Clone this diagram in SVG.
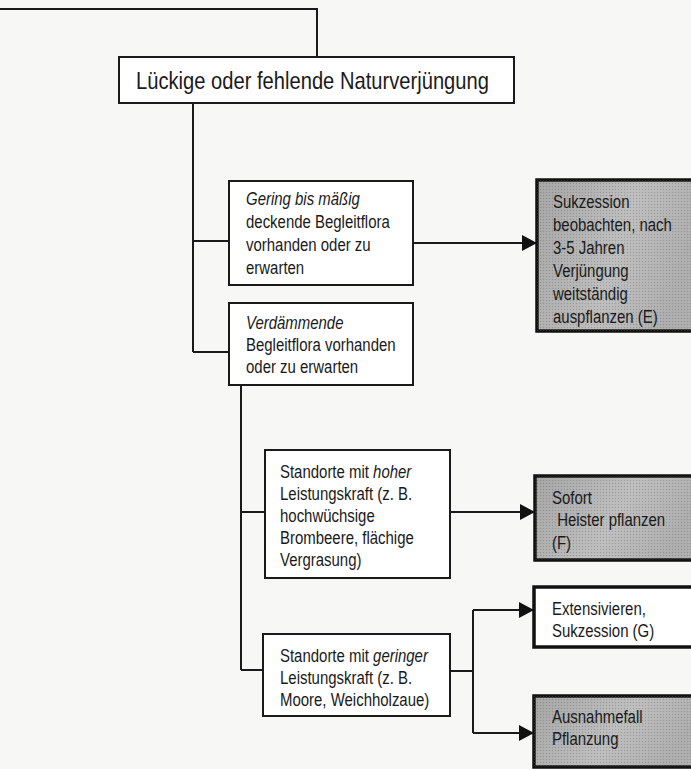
<svg xmlns="http://www.w3.org/2000/svg" width="691" height="769" viewBox="0 0 691 769">
<style>
text{font-family:"Liberation Sans",Arial,sans-serif;font-size:17.5px;fill:#1a1a1a}
.t{font-size:24px}
.i{font-style:italic}
.box{fill:#fff;stroke:#1a1a1a;stroke-width:2}
.bold{stroke:#111;stroke-width:3.5}
.gray{fill:url(#g);stroke:#111;stroke-width:3.5}
.ln{fill:none;stroke:#1a1a1a;stroke-width:2}
</style>
<defs>
<linearGradient id="g" x1="0" y1="0" x2="1" y2="0.3">
<stop offset="0" stop-color="#a2a2a2"/>
<stop offset="0.6" stop-color="#bcbcbc"/>
<stop offset="1" stop-color="#acacac"/>
</linearGradient>
<pattern id="dots" width="3" height="3" patternUnits="userSpaceOnUse">
<rect x="0" y="0" width="1" height="1" fill="#666" fill-opacity="0.35"/>
<rect x="1.5" y="1.5" width="1" height="1" fill="#fff" fill-opacity="0.25"/>
</pattern>
<marker id="ah" markerUnits="userSpaceOnUse" markerWidth="16" markerHeight="18" refX="15" refY="8" orient="auto">
<path d="M0,0 L15,8 L0,16 z" fill="#111"/>
</marker>
</defs>
<rect width="691" height="769" fill="#f7f7f6"/>
<g id="connectors">
<path class="ln" d="M0,9 H317 V57"/>
<path class="ln" d="M193,103 V352 M193,241 H229 M193,352 H229"/>
<path class="ln" d="M413,243 H537" marker-end="url(#ah)"/>
<path class="ln" d="M241,385 V670 M241,512 H265 M241,670 H263"/>
<path class="ln" d="M450,512 H535" marker-end="url(#ah)"/>
<path class="ln" d="M450,671 H473 M473,610 V733"/>
<path class="ln" d="M473,610 H534" marker-end="url(#ah)"/>
<path class="ln" d="M473,733 H534" marker-end="url(#ah)"/>
</g>
<g id="n-title">
<rect class="box" x="119" y="57" width="395" height="46"/>
<g transform="translate(136 0) scale(0.84 1)">
<text class="t" x="0" y="89">Lückige oder fehlende Naturverjüngung</text>
</g>
</g>
<g id="n-gering">
<rect class="box" x="229" y="181" width="184" height="104"/>
<g transform="translate(246 0) scale(0.855 1)">
<text x="0" y="205"><tspan class="i">Gering bis mäßig</tspan></text>
<text x="0" y="228">deckende Begleitflora</text>
<text x="0" y="251">vorhanden oder zu</text>
<text x="0" y="274">erwarten</text>
</g>
</g>
<g id="n-E">
<rect class="gray" x="537" y="180" width="158" height="151"/>
<rect x="537" y="180" width="158" height="151" fill="url(#dots)"/>
<g transform="translate(553 0) scale(0.855 1)">
<text x="0" y="208">Sukzession</text>
<text x="0" y="231">beobachten, nach</text>
<text x="0" y="254">3-5 Jahren</text>
<text x="0" y="277">Verjüngung</text>
<text x="0" y="300">weitständig</text>
<text x="0" y="323">auspflanzen (E)</text>
</g>
</g>
<g id="n-verd">
<rect class="box" x="229" y="303" width="184" height="82"/>
<g transform="translate(246 0) scale(0.855 1)">
<text x="0" y="329"><tspan class="i">Verdämmende</tspan></text>
<text x="0" y="351">Begleitflora vorhanden</text>
<text x="0" y="373">oder zu erwarten</text>
</g>
</g>
<g id="n-hoch">
<rect class="box" x="265" y="450" width="185" height="128"/>
<g transform="translate(280 0) scale(0.855 1)">
<text x="0" y="478">Standorte mit <tspan class="i">hoher</tspan></text>
<text x="0" y="500">Leistungskraft (z. B.</text>
<text x="0" y="522">hochwüchsige</text>
<text x="0" y="544">Brombeere, flächige</text>
<text x="0" y="566">Vergrasung)</text>
</g>
</g>
<g id="n-F">
<rect class="gray" x="535" y="476" width="160" height="84"/>
<rect x="535" y="476" width="160" height="84" fill="url(#dots)"/>
<g transform="translate(552 0) scale(0.855 1)">
<text x="0" y="504">Sofort</text>
<text x="6" y="526">Heister pflanzen</text>
<text x="0" y="549">(F)</text>
</g>
</g>
<g id="n-gering2">
<rect class="box" x="263" y="634" width="187" height="82"/>
<g transform="translate(280 0) scale(0.855 1)">
<text x="0" y="662">Standorte mit <tspan class="i">geringer</tspan></text>
<text x="0" y="684">Leistungskraft (z. B.</text>
<text x="0" y="706">Moore, Weichholzaue)</text>
</g>
</g>
<g id="n-G">
<rect class="box bold" x="534" y="587" width="161" height="60"/>
<g transform="translate(552 0) scale(0.855 1)">
<text x="0" y="615">Extensivieren,</text>
<text x="0" y="637">Sukzession (G)</text>
</g>
</g>
<g id="n-A">
<rect class="gray" x="534" y="696" width="161" height="71"/>
<rect x="534" y="696" width="161" height="71" fill="url(#dots)"/>
<g transform="translate(552 0) scale(0.855 1)">
<text x="0" y="723">Ausnahmefall</text>
<text x="0" y="745">Pflanzung</text>
</g>
</g>
</svg>
